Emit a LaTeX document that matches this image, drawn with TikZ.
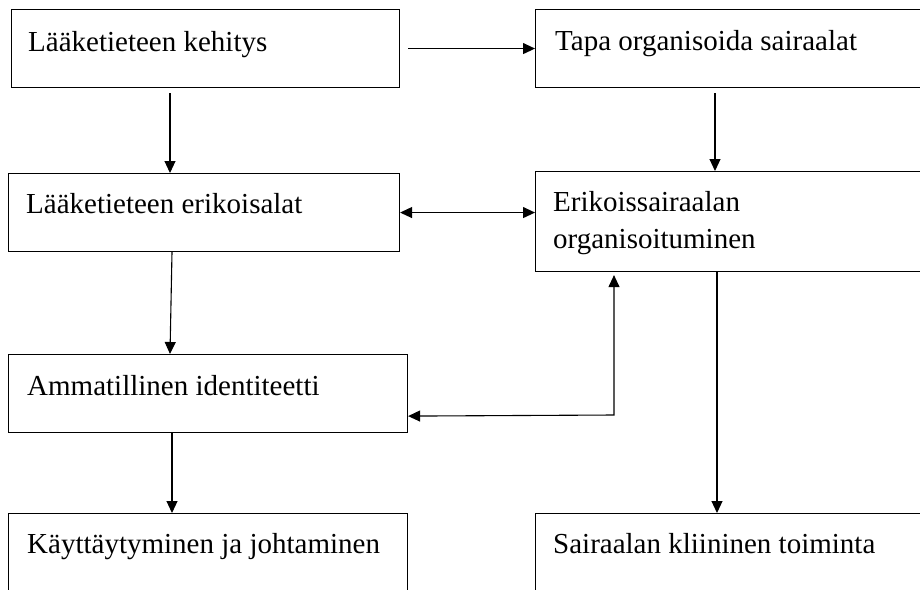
\documentclass[tikz,border=0pt]{standalone}
\usepackage{fontspec}
\setmainfont{Liberation Serif}
\usetikzlibrary{arrows.meta,calc}

\tikzset{
  box/.style={draw=black, line width=1.1pt, rectangle, anchor=north west,
              inner sep=0pt, fill=none},
  lbl/.style={anchor=base west, inner sep=0pt, align=left,
              font=\fontsize{29}{37}\selectfont},
  link/.style={line width=1.1pt, draw=black},
  tip/.style={},
  arr/.style={link, -{Triangle[length=12pt,width=11pt]}},
  dbl/.style={link, {Triangle[length=12pt,width=11pt]}-{Triangle[length=12pt,width=11pt]}},
}

\begin{document}
\begin{tikzpicture}[x=1pt, y=-1pt]
  \useasboundingbox (0,0) rectangle (920,589);
  \clip (0,0) rectangle (920,589);
  \fill[white] (0,0) rectangle (920,589);

  % boxes (the right column and the bottom row run past the page edge)
  \node[box, minimum width=388, minimum height=78]  (b1) at (11,9)    {};
  \node[box, minimum width=420, minimum height=78]  (b2) at (535,9)   {};
  \node[box, minimum width=391, minimum height=78]  (b3) at (8,173)   {};
  \node[box, minimum width=420, minimum height=100] (b4) at (535,171) {};
  \node[box, minimum width=399, minimum height=78]  (b5) at (8,354)   {};
  \node[box, minimum width=399, minimum height=110] (b6) at (8,513)   {};
  \node[box, minimum width=420, minimum height=110] (b7) at (535,513) {};

  % labels (a two-line label is anchored on its last baseline)
  \node[lbl] (t1) at (28,51)  {Lääketieteen kehitys};
  \node[lbl] (t2) at (555,50) {Tapa organisoida sairaalat};
  \node[lbl] (t3) at (26,213) {Lääketieteen erikoisalat};
  \node[lbl] (t4) at (553,248) {Erikoissairaalan\\organisoituminen};
  \node[lbl] (t5) at (27,395) {Ammatillinen identiteetti};
  \node[lbl] (t6) at (27,553) {Käyttäytyminen ja johtaminen};
  \node[lbl] (t7) at (553,553) {Sairaalan kliininen toiminta};

  % connectors
  \draw[arr] ([xshift=8pt]b1.east) -- (b2.west);
  \draw[arr] ($(b1.south west)+(159,5)$) -- ($(b3.north west)+(162,0)$);
  \draw[arr] ($(b2.south west)+(180,5)$) -- ($(b4.north west)+(180,0)$);
  \draw[dbl] (b3.east) -- (b3.east -| b4.west);
  \draw[arr] ($(b3.south west)+(164,0)$) -- ($(b5.north west)+(162,0)$);
  \draw[arr] ($(b5.south west)+(164,0)$) -- ($(b6.north west)+(164,0)$);
  \coordinate (elbow) at (614,415);
  \draw[dbl] ($(b5.south east)+(0,-17)$) -- (elbow) -- ($(b4.south west)+(79,3)$);
  \draw[arr] ($(b4.south west)+(182,0)$) -- ($(b7.north west)+(182,0)$);
\end{tikzpicture}
\end{document}
